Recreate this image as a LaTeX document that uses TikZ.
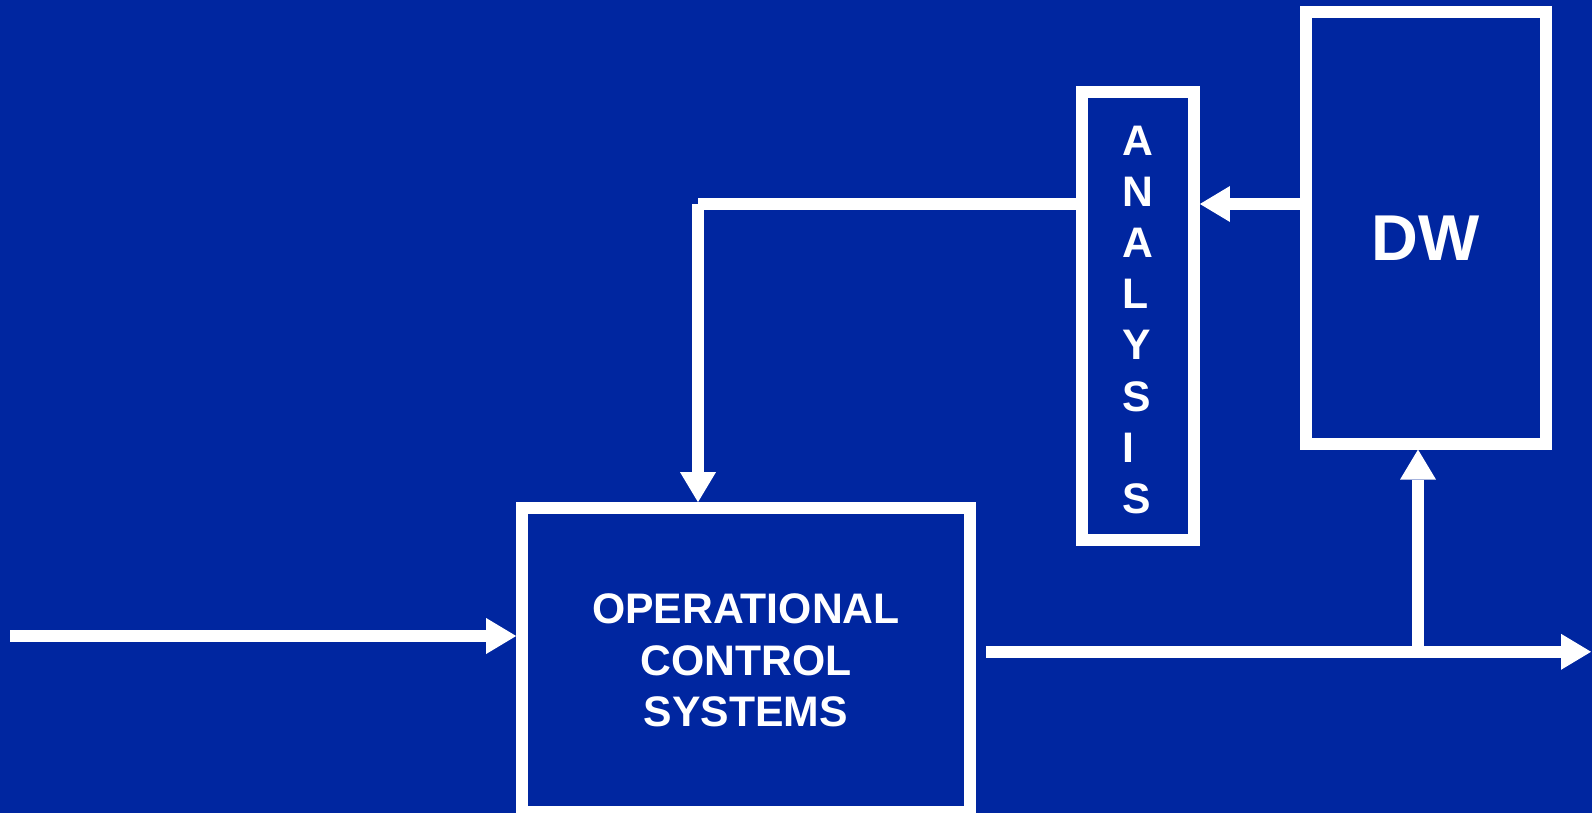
\documentclass[tikz,border=0pt]{standalone}
\usepackage{fontspec}
\setmainfont{Liberation Sans}
\usetikzlibrary{arrows.meta}
\definecolor{slideblue}{RGB}{0,38,160}
\tikzset{
  boxframe/.style={draw=white, line width=11.8pt, inner sep=0pt},
  wire/.style={draw=white, line width=11.8pt},
  flow/.style={wire, -{Triangle[length=30pt, width=36pt, line width=0pt]}},
  caption/.style={text=white, inner sep=0pt,
    font=\bfseries\fontsize{42.7pt}{51.2pt}\selectfont},
  bigcaption/.style={text=white, inner sep=0pt,
    font=\bfseries\fontsize{64.8pt}{78pt}\selectfont},
}
\begin{document}
\begin{tikzpicture}[x=1pt, y=-1pt]
  % slide background
  \fill[slideblue] (0,0) rectangle (1592,813);
  \useasboundingbox (0,0) rectangle (1592,813);

  % boxes
  \node[boxframe, minimum width=448pt, minimum height=303.7pt] (ocs) at (746,659.85) {};
  \node[caption, align=center] (ocstext) at (746,660.3) {OPERATIONAL\\CONTROL\\SYSTEMS};

  \node[boxframe, minimum width=112pt, minimum height=448pt] (analysis) at (1138,316) {};
  \node[caption, align=left] (analysistext) at (1138,319.8) {A\\N\\A\\L\\Y\\S\\I\\S};

  \node[boxframe, minimum width=239.6pt, minimum height=431.7pt] (dw) at (1425.8,227.85) {};
  \node[bigcaption, anchor=base] (dwtext) at (1425.8,260.7) {DW};

  % helper points for the connectors
  \coordinate (corner) at (698,204);
  \coordinate (inp) at (10,636);
  \coordinate (outstart) at (986,651.8);
  \coordinate (outend) at (1591,651.8);
  \coordinate (tap) at (1418,651.8);

  % DW feeds analysis
  \draw[flow] (dw.west |- corner) -- (analysis.east |- corner);
  % analysis results return to the operational systems
  \draw[wire] (analysis.west |- corner) -- (corner);
  \draw[flow] (corner) -- (corner |- ocs.north);
  % input into the operational systems
  \draw[flow] (inp) -- (inp -| ocs.west);
  % output, with a branch loading the DW
  \draw[flow] (outstart) -- (outend);
  \draw[flow] (tap) -- (tap |- dw.south);
\end{tikzpicture}
\end{document}
